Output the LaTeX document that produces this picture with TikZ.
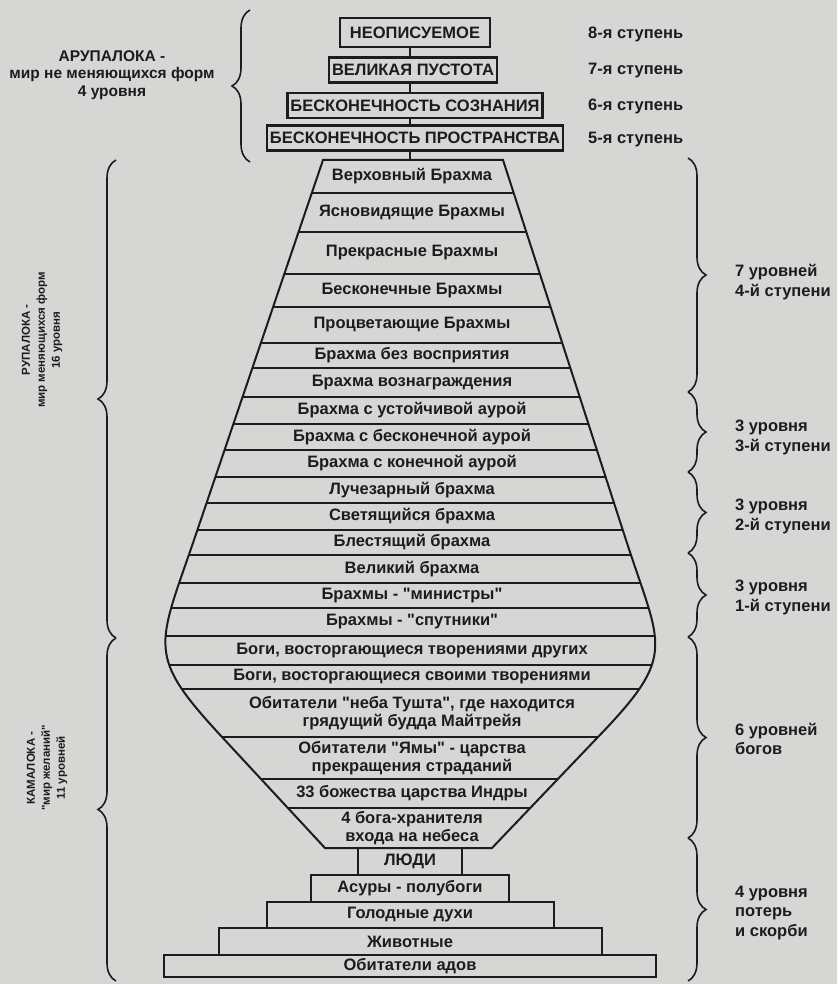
\documentclass[tikz,border=0pt]{standalone}
\usepackage{fontspec}
\setmainfont{Liberation Sans}[Ligatures=TeXOff]
\usetikzlibrary{decorations.pathreplacing}
\definecolor{paper}{RGB}{214,214,212}
\definecolor{ink}{RGB}{28,28,28}
\tikzset{lvl/.style = {font=\bfseries\fontsize{16.5}{17.5}\selectfont, text=ink, align=center, inner sep=0}}
\tikzset{stepbox/.style = {draw=ink, line width=2.4pt, font=\bfseries\fontsize{16.5}{18}\selectfont,
                           text=ink, inner xsep=3, inner ysep=0, minimum height=25}}
\tikzset{floor/.style = {draw=ink, line width=2pt, font=\bfseries\fontsize{16.5}{18}\selectfont,
                         text=ink, inner sep=0, minimum height=27}}
\tikzset{brc/.style = {decorate, decoration={brace, amplitude=18pt}, line width=1.6pt, draw=ink}}
\tikzset{side/.style = {font=\bfseries\fontsize{16.5}{19.5}\selectfont, text=ink, align=left, anchor=west, inner sep=0}}
\tikzset{vert/.style = {font=\bfseries\fontsize{11.5}{15}\selectfont, text=ink, align=center, rotate=90, inner sep=0}}
\def\vase{(323,160) -- (503,160) -- (626,540) .. controls (661,648) and (678,654) .. (598,737)
  -- (492,848) -- (325,848) -- (222,737) .. controls (146,655) and (157,648) .. (194,540) -- cycle}

\begin{document}
\begin{tikzpicture}[x=1pt, y=-1pt]
    \fill [paper] (0,0) rectangle (837,984);
    \useasboundingbox (0,0) rectangle (837,984);

    % arupaloka
    \node [stepbox, minimum width=150, minimum height=29] (n8) at (415,32.5) {НЕОПИСУЕМОЕ};
    \node [stepbox] (n7) at (413,70) {ВЕЛИКАЯ ПУСТОТА};
    \node [stepbox] (n6) at (415,105.5) {БЕСКОНЕЧНОСТЬ СОЗНАНИЯ};
    \node [stepbox] (n5) at (415,138) {БЕСКОНЕЧНОСТЬ ПРОСТРАНСТВА};
    \coordinate (vtop) at (410,160);
    \draw [ink, line width=1.8pt] (n8.south -| vtop) -- (n7.north -| vtop)
          (n7.south -| vtop) -- (n6.north -| vtop)
          (n6.south -| vtop) -- (n5.north -| vtop)
          (n5.south -| vtop) -- (vtop);
    \foreach \k/\y in {8/34, 7/71, 6/106, 5/140}
      \node [side] (l\k) at (588,\y) {\k-я ступень};

    % rupaloka + kamaloka
    \begin{scope}
      \clip \vase;
      \foreach \y in {193,232,274,307,343,368,397,424,450,477,503,530,555,583,608,636,665,689,737,779,808}
        \draw [ink, line width=1.8pt] (100,\y) -- (700,\y);
    \end{scope}
    \draw [ink, line width=2pt] \vase;

    \foreach \n/\y/\t in {1/176.5/{Верховный Брахма}, 2/212.5/{Ясновидящие Брахмы},
        3/253/{Прекрасные Брахмы}, 4/290.5/{Бесконечные Брахмы}, 5/325/{Процветающие Брахмы},
        6/355.5/{Брахма без восприятия}, 7/382.5/{Брахма вознаграждения},
        8/410.5/{Брахма с устойчивой аурой}, 9/437/{Брахма с бесконечной аурой},
        10/463.5/{Брахма с конечной аурой}, 11/490/{Лучезарный брахма}, 12/516.5/{Светящийся брахма},
        13/542.5/{Блестящий брахма}, 14/569/{Великий брахма}, 15/595.5/{Брахмы - "министры"},
        16/622/{Брахмы - "спутники"}, 17/650.5/{Боги, восторгающиеся творениями других},
        18/677/{Боги, восторгающиеся своими творениями},
        19/713/{Обитатели "неба Тушта", где находится\\грядущий будда Майтрейя},
        20/758/{Обитатели "Ямы" - царства\\прекращения страданий},
        21/793.5/{33 божества царства Индры}, 22/828/{4 бога-хранителя\\входа на небеса}}
      \node [lvl] (r\n) at (412,\y) {\t};

    \node [floor, minimum width=104] (men) at (410,861.5) {ЛЮДИ};
    \node [floor, minimum width=198] (asura) at (410,888.5) {Асуры - полубоги};
    \node [floor, minimum width=287, minimum height=26] (ghost) at (410,915) {Голодные духи};
    \node [floor, minimum width=383] (beast) at (410,941.5) {Животные};
    \node [floor, minimum width=492, minimum height=22] (hell) at (410,966) {Обитатели адов};

    % braces
    \draw [brc] (250,162) -- (250,10);
    \node [font=\bfseries\fontsize{15.5}{17.5}\selectfont, text=ink, align=center] (aru) at (112,75)
          {АРУПАЛОКА -\\мир не меняющихся форм\\4 уровня};
    \draw [brc] (116,638) -- (116,160);
    \node [vert] (rupa) at (42,340) {РУПАЛОКА -\\мир меняющихся форм\\16 уровня};
    \draw [brc] (116,981) -- (116,638);
    \node [vert] (kama) at (47,768) {КАМАЛОКА -\\"мир желаний"\\11 уровней};

    \foreach \a/\b in {158/392, 392/472, 472/553, 553/637, 637/838, 838/981}
      \draw [brc] (688,\a) -- (688,\b);
    \node [side] (s4) at (735,282) {7 уровней\\4-й ступени};
    \node [side] (s3) at (735,437.5) {3 уровня\\3-й ступени};
    \node [side] (s2) at (735,516.5) {3 уровня\\2-й ступени};
    \node [side] (s1) at (735,597.5) {3 уровня\\1-й ступени};
    \node [side] (gods) at (735,739) {6 уровней\\богов};
    \node [side] (loss) at (735,913) {4 уровня\\потерь\\и скорби};
\end{tikzpicture}
\end{document}
